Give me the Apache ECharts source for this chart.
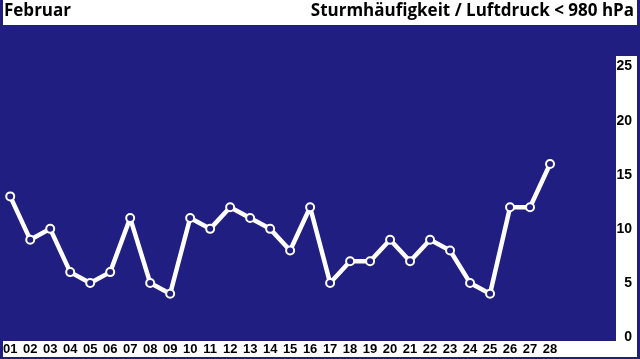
<!DOCTYPE html>
<html>
<head>
<meta charset="utf-8">
<script src="https://cdn.jsdelivr.net/npm/echarts@6/dist/echarts.min.js"></script>
<style>
html,body{margin:0;padding:0;background:#201E80;}
#c{width:640px;height:359px;}
</style>
</head>
<body>
<div id="c"></div>
<script>
var days = ['01','02','03','04','05','06','07','08','09','10','11','12','13','14','15','16','17','18','19','20','21','22','23','24','25','26','27','28','','',''];
var values = [13,9,10,6,5,6,11,5,4,11,10,12,11,10,8,12,5,7,7,9,7,9,8,5,4,12,12,16];
var yTicks = [0,5,10,15,20,25];
var titleLeft = 'Februar';
var titleRight = 'Sturmhäufigkeit / Luftdruck < 980 hPa';

var BLUE = '#201E80';
var chart = echarts.init(document.getElementById('c'));
chart.setOption({
  animation: false,
  backgroundColor: BLUE,
  graphic: [
    {type:'rect', shape:{x:3,y:0,width:634,height:25}, style:{fill:'#fff'}, z:-10},
    {type:'rect', shape:{x:616,y:56,width:21,height:301}, style:{fill:'#fff'}, z:-10},
    {type:'rect', shape:{x:3,y:341,width:634,height:16}, style:{fill:'#fff'}, z:-10},
    {type:'text', left:4, top:3, style:{text:titleLeft, fill:'#000', font:'bold 17px "Open Sans", sans-serif'}},
    {type:'text', right:6, top:3, style:{text:titleRight, fill:'#000', font:'bold 17px "Open Sans", sans-serif'}}
  ],
  grid: {left:0, top:25, width:620, bottom:18, containLabel:false},
  xAxis: {
    type:'category', data: days, boundaryGap:true,
    axisLine:{show:false}, axisTick:{show:false}, splitLine:{show:false},
    axisLabel:{color:'#000', fontFamily:'"Liberation Sans", Arial, sans-serif', fontWeight:'bold', fontSize:13, margin:2, interval:0}
  },
  yAxis: {
    type:'value', position:'right', min:-0.37, max:28.85,
    axisLine:{show:false}, axisTick:{show:false}, splitLine:{show:false},
    axisLabel:{customValues:yTicks, color:'#000', fontFamily:'"Liberation Sans", Arial, sans-serif', fontWeight:'bold', fontSize:14, margin:12, align:'right'}
  },
  series: [{
    type:'line', data: values,
    lineStyle:{color:'#fff', width:4.5},
    symbol:'circle', symbolSize:8,
    itemStyle:{color:BLUE, borderColor:'#fff', borderWidth:2},
    z:3
  }]
});
</script>
</body>
</html>
